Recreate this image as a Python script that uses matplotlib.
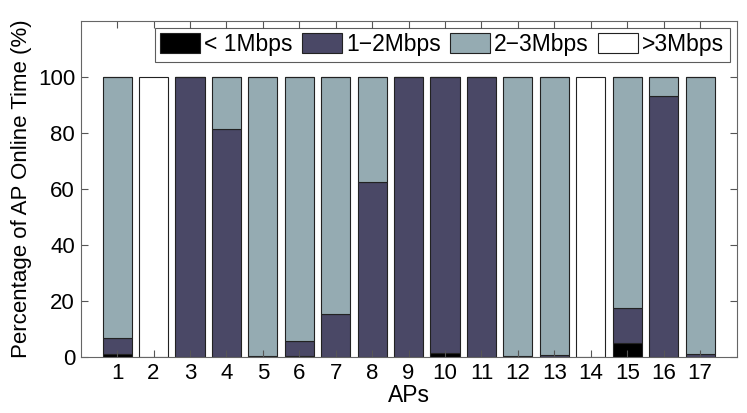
import numpy as np
import matplotlib
matplotlib.use("Agg")
import matplotlib.pyplot as plt

plt.rcParams['font.family'] = ['Liberation Sans', 'DejaVu Sans']

# Datos (% del tiempo en linea de cada AP)
aps = np.arange(1, 18)
lt1 = [1.2, 0, 0, 0, 0, 0.3, 0, 0, 0, 1.5, 0, 0, 0, 0, 5.2, 0, 0]
m1_2 = [5.8, 0, 100, 81.5, 0.3, 5.4, 15.5, 62.3, 100, 98.5, 100, 0.5, 0.8, 0, 12.5, 93.0, 1.3]
m2_3 = [93.0, 0, 0, 18.5, 99.7, 94.3, 84.5, 37.7, 0, 0, 0, 99.5, 99.2, 0, 82.3, 7.0, 98.7]
gt3 = [0, 100, 0, 0, 0, 0, 0, 0, 0, 0, 0, 0, 0, 100, 0, 0, 0]

etiquetas = ['< 1Mbps', '1\u22122Mbps', '2\u22123Mbps', '>3Mbps']
colores = ['#000000', '#4a4866', '#95abb2', '#ffffff']

fig = plt.figure(figsize=(7.47, 4.13), dpi=100)
ax = fig.add_axes([0.108, 0.135, 0.878, 0.815])

base = np.zeros(len(aps))
for vals, lab, col in zip([lt1, m1_2, m2_3, gt3], etiquetas, colores):
    ax.bar(aps, vals, width=0.8, bottom=base, color=col, edgecolor='#222222',
           linewidth=0.8, label=lab)
    base += np.array(vals)

ax.set_xlim(0, 18)
ax.set_ylim(0, 120)
ax.set_xticks(aps)
ax.set_yticks([0, 20, 40, 60, 80, 100])
ax.tick_params(direction='in', top=True, right=True, labelsize=16, length=5,
               color='#555555', pad=4)
for s in ax.spines.values():
    s.set_color('#666666')
ax.set_xlabel('APs', fontsize=16.5, labelpad=0)
ax.set_ylabel('Percentage of AP Online Time (%)', fontsize=16, labelpad=4)

leg = ax.legend(loc='upper right', ncol=4, fontsize=16.5, frameon=True, fancybox=False,
                handlelength=1.75, handleheight=0.95, handletextpad=0.17, columnspacing=0.4,
                borderpad=0.25, borderaxespad=0.3)
leg.get_frame().set_edgecolor('#333333')
leg.get_frame().set_linewidth(0.8)

fig.savefig('out.png', dpi=100)
